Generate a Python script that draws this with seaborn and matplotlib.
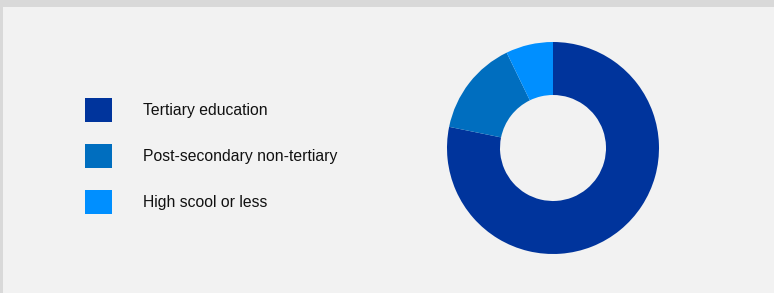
import matplotlib
matplotlib.use("Agg")
import matplotlib.pyplot as plt
import seaborn as sns
from matplotlib.patches import Rectangle

categories = ["Tertiary education", "Post-secondary non-tertiary", "High scool or less"]
shares = [78.2, 14.6, 7.2]
colors = ["#00349C", "#006EBF", "#008FFF"]

sns.set_theme(style="white")
plt.rcParams["font.family"] = ["Liberation Sans", "DejaVu Sans"]

W, H = 774, 293
fig = plt.figure(figsize=(W / 100, H / 100), dpi=100)
fig.patch.set_facecolor("#d9d9d9")
# inner panel
fig.patches.append(Rectangle((3 / W, 0), 1 - 3 / W, (H - 7) / H, transform=fig.transFigure,
                             facecolor="#f2f2f2", edgecolor="none", zorder=-5))

cx, cy, r = 553, 148, 106
ax = fig.add_axes([(cx - r) / W, (H - cy - r) / H, 2 * r / W, 2 * r / H])
ax.set_facecolor("none")
ax.set_zorder(2)
wedges, _ = ax.pie(shares, colors=colors, startangle=90, counterclock=False,
                   radius=1, wedgeprops=dict(width=0.5, edgecolor="none", linewidth=0))
ax.set_xlim(-1, 1)
ax.set_ylim(-1, 1)
ax.set_aspect("equal")
ax.axis("off")

fs = 11.3
fpx = fs * 100 / 72
hh = (24 / fpx - 0.245) / 0.65
leg = fig.legend(wedges, categories, loc="upper left",
                 bbox_to_anchor=(85 / W, 1 - 98 / H), bbox_transform=fig.transFigure,
                 frameon=False, fontsize=fs, borderpad=0, borderaxespad=0,
                 handlelength=27 / fpx, handleheight=hh,
                 handletextpad=31 / fpx, labelspacing=22 / fpx)
leg.set_zorder(3)
for t in leg.get_texts():
    t.set_color("#111111")

fig.savefig("out.png", dpi=100, facecolor=fig.get_facecolor())
